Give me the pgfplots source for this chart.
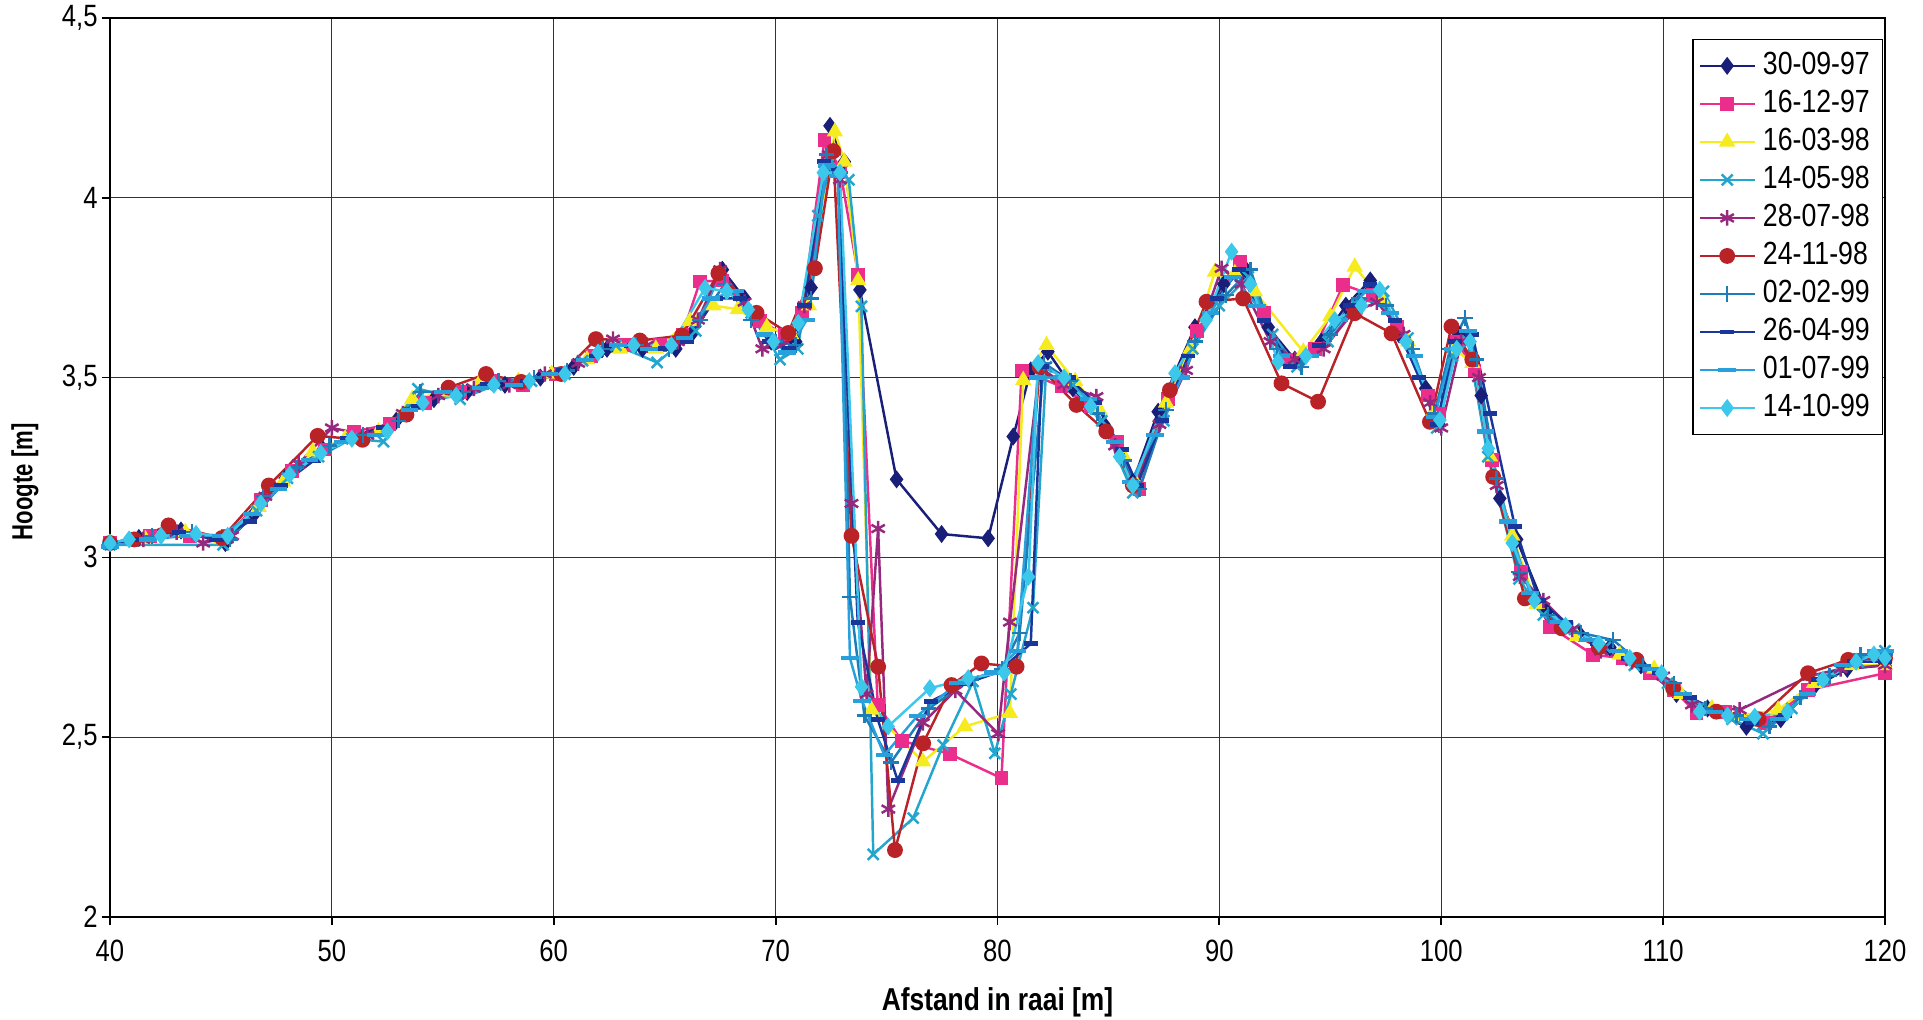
\documentclass[border=0pt]{standalone}
\usepackage{fontspec}
\setmainfont{Liberation Sans}
\usepackage{graphicx}
\usepackage{pgfplots}
\pgfplotsset{compat=1.18}

\definecolor{cA}{RGB}{25,30,120}
\definecolor{cB}{RGB}{235,45,140}
\definecolor{cC}{RGB}{245,235,30}
\definecolor{cD}{RGB}{35,165,205}
\definecolor{cE}{RGB}{150,40,125}
\definecolor{cF}{RGB}{185,35,40}
\definecolor{cG}{RGB}{30,125,185}
\definecolor{cH}{RGB}{25,55,155}
\definecolor{cI}{RGB}{40,160,220}
\definecolor{cJ}{RGB}{60,200,235}

% the scanned chart has its lettering stretched a little in height
\newcommand{\tall}[1]{\scalebox{1}[1.2]{#1}}

\begin{document}
\begin{tikzpicture}
\begin{axis}[
  scale only axis, width=17.75cm, height=8.99cm,
  xmin=40, xmax=120, ymin=2, ymax=4.5,
  xtick={40,50,...,120}, ytick={2,2.5,...,4.5},
  grid=major, grid style={black!80, line width=0.35pt},
  axis line style={black, line width=0.6pt},
  tick align=outside, tick pos=left, major tick length=0.08cm,
  tick style={black, line width=0.5pt},
  /pgf/number format/use comma,
  /pgf/number format/assume math mode=true,
  xticklabel={\tall{\pgfmathprintnumber{\tick}}},
  yticklabel={\tall{\pgfmathprintnumber{\tick}}},
  ticklabel style={font=\fontsize{7.3}{8}\selectfont},
  xticklabel style={yshift=-0.03cm},
  yticklabel style={xshift=0.08cm},
  xlabel={\tall{Afstand in raai [m]}},
  ylabel={\scalebox{0.84}[1.1]{Hoogte [m]}},
  label style={font=\bfseries\fontsize{7.5}{9}\selectfont},
  x label style={at={(axis description cs:0.5,-0.0945)},anchor=center},
  y label style={at={(axis description cs:-0.0479,0.484)},anchor=center},
  legend style={at={(0.999,0.977)}, anchor=north east, font=\fontsize{7.6}{9}\selectfont,
    draw=black, row sep=-1.05pt, inner sep=1.6pt, cells={anchor=west}},
  legend image code/.code={\draw[mark repeat=2,mark phase=2] plot coordinates {(0cm,0cm) (0.275cm,0cm) (0.55cm,0cm)};},
  every axis plot/.append style={line width=0.7pt},
]

% 30-09-97
\addplot[cA, mark=diamond*, mark size=2pt, mark options={solid}] coordinates {
(40,3.04) (41.3,3.054) (43.2,3.075) (45.2,3.04) (46.5,3.12) (47.9,3.22) (49.6,3.30) (51.2,3.34) (52.9,3.38) (54.6,3.44) (56.1,3.46) (57.8,3.48) (59.4,3.50) (60.9,3.53) (62.4,3.58) (64.0,3.58) (65.5,3.58) (66.2,3.62) (67.6,3.80) (68.6,3.72) (69.8,3.60) (70.9,3.60) (71.6,3.75) (72.45,4.20) (73.1,4.10) (73.8,3.744) (75.45,3.217) (77.48,3.065) (79.58,3.053) (80.71,3.336) (81.5,3.52) (82.27,3.572) (83.4,3.47) (84.8,3.37) (86.1,3.21) (87.24,3.405) (88.9,3.64) (90.2,3.76) (91.2,3.80) (92.2,3.64) (93.4,3.55) (94.6,3.60) (95.7,3.70) (96.8,3.77) (98.1,3.62) (99.3,3.47) (99.9,3.37) (100.8,3.62) (101.8,3.45) (102.64,3.164) (103.4,3.05) (104.74,2.849) (106.2,2.79) (107.6,2.75) (109.0,2.70) (110.6,2.62) (112.0,2.58) (113.75,2.529) (115.3,2.55) (116.8,2.64) (118.3,2.69) (120,2.70)
};
\addlegendentry{\tall{30-09-97}}

% 16-12-97
\addplot[cB, mark=square*, mark size=1.6pt, mark options={solid}] coordinates {
(40,3.04) (41.8,3.06) (43.6,3.06) (45.3,3.06) (46.8,3.16) (48.2,3.24) (49.7,3.30) (51.0,3.35) (52.6,3.37) (54.2,3.43) (55.8,3.46) (57.2,3.49) (58.6,3.48) (60.1,3.51) (61.7,3.56) (63.2,3.59) (64.8,3.59) (65.8,3.62) (66.59,3.767) (67.6,3.77) (69.3,3.657) (70.4,3.62) (71.2,3.68) (72.2,4.16) (72.9,4.08) (73.72,3.786) (74.6,2.59) (75.68,2.49) (77.86,2.453) (80.18,2.386) (81.09,3.52) (82.89,3.475) (84.2,3.42) (85.4,3.32) (86.4,3.19) (87.7,3.44) (89.0,3.63) (90.92,3.822) (92.0,3.68) (93.0,3.55) (94.3,3.58) (95.58,3.758) (96.9,3.73) (98.0,3.64) (99.4,3.45) (99.9,3.40) (100.7,3.60) (101.5,3.52) (102.3,3.27) (103.6,2.96) (104.9,2.807) (106.85,2.729) (108.2,2.72) (109.4,2.678) (110.5,2.63) (111.5,2.567) (112.8,2.57) (114.58,2.539) (116.53,2.631) (120,2.678)
};
\addlegendentry{\tall{16-12-97}}

% 16-03-98
\addplot[cC, mark=triangle*, mark size=2pt, mark options={solid}] coordinates {
(40,3.04) (41.6,3.05) (43.4,3.07) (45.0,3.05) (46.7,3.14) (47.8,3.21) (49.14,3.294) (50.6,3.33) (52.1,3.35) (53.62,3.44) (55.1,3.46) (56.6,3.48) (58.4,3.49) (59.9,3.51) (61.5,3.55) (63.0,3.58) (64.6,3.58) (66.14,3.657) (67.2,3.70) (68.3,3.69) (69.6,3.64) (70.7,3.62) (71.5,3.70) (72.67,4.184) (73.1,4.10) (73.72,3.77) (74.32,2.576) (76.64,2.432) (78.53,2.53) (80.56,2.567) (81.16,3.493) (82.21,3.59) (83.5,3.49) (84.6,3.41) (85.7,3.28) (86.3,3.20) (87.6,3.43) (88.7,3.58) (89.8,3.794) (90.7,3.79) (91.6,3.739) (93.78,3.572) (95.0,3.67) (96.1,3.808) (97.3,3.72) (98.5,3.60) (99.6,3.40) (100.6,3.58) (101.4,3.54) (102.2,3.28) (103.2,3.06) (104.3,2.87) (106.1,2.78) (108.05,2.729) (109.6,2.69) (110.8,2.62) (112.2,2.58) (113.5,2.56) (115.18,2.576) (116.8,2.65) (118.5,2.70) (120,2.70)
};
\addlegendentry{\tall{16-03-98}}

% 14-05-98
\addplot[cD, mark=x, mark size=2.2pt, mark options={solid}] coordinates {
(40,3.035) (45.1,3.035) (46.6,3.13) (48.0,3.22) (49.4,3.28) (50.9,3.33) (52.33,3.322) (53.88,3.469) (55.78,3.44) (57.4,3.48) (59.0,3.49) (60.5,3.51) (61.3,3.547) (62.8,3.59) (64.66,3.542) (66.4,3.63) (67.5,3.79) (68.9,3.68) (70.2,3.55) (71.0,3.58) (71.9,3.95) (72.5,4.10) (73.3,4.05) (73.87,3.698) (74.4,2.174) (76.2,2.275) (77.55,2.478) (78.9,2.655) (79.88,2.455) (80.6,2.62) (81.6,2.86) (82.2,3.53) (83.4,3.48) (84.7,3.38) (86.1,3.18) (87.5,3.38) (88.8,3.58) (90.0,3.70) (91.3,3.78) (92.4,3.62) (93.5,3.53) (94.9,3.60) (96.2,3.70) (97.4,3.74) (98.5,3.61) (99.8,3.36) (100.5,3.56) (101.2,3.60) (102.1,3.28) (103.5,2.94) (104.6,2.84) (106.0,2.80) (107.4,2.75) (108.7,2.70) (110.2,2.65) (111.6,2.58) (113.1,2.55) (114.5,2.51) (115.8,2.58) (117.2,2.66) (118.8,2.71) (120,2.74)
};
\addlegendentry{\tall{14-05-98}}

% 28-07-98
\addplot[cE, mark=asterisk, mark size=2.2pt, mark options={solid}] coordinates {
(40,3.04) (41.5,3.05) (43.0,3.07) (44.2,3.04) (45.5,3.06) (47.0,3.17) (48.5,3.26) (50.0,3.36) (51.6,3.34) (53.2,3.40) (54.8,3.45) (56.4,3.47) (58.0,3.48) (59.6,3.51) (61.1,3.54) (62.67,3.607) (64.2,3.59) (65.6,3.60) (66.5,3.66) (67.5,3.80) (68.6,3.71) (69.4,3.58) (70.3,3.59) (71.3,3.70) (72.4,4.12) (72.9,4.05) (73.42,3.15) (74.1,2.62) (74.62,3.08) (75.08,2.30) (76.64,2.54) (78.1,2.63) (80.03,2.51) (80.56,2.82) (81.9,3.53) (83.0,3.48) (84.46,3.447) (85.3,3.31) (86.2,3.20) (87.3,3.37) (88.5,3.52) (90.1,3.804) (91.0,3.76) (92.3,3.60) (93.4,3.55) (94.7,3.58) (96.0,3.68) (97.1,3.71) (98.3,3.62) (99.5,3.43) (100.0,3.36) (100.9,3.60) (101.7,3.50) (102.5,3.20) (103.54,2.947) (104.6,2.88) (105.9,2.80) (107.2,2.74) (108.6,2.71) (110.0,2.67) (111.3,2.59) (113.45,2.576) (116.6,2.67) (118.0,2.69) (120,2.70)
};
\addlegendentry{\tall{28-07-98}}

% 24-11-98
\addplot[cF, mark=*, mark size=1.9pt, mark options={solid}] coordinates {
(40,3.04) (41.1,3.05) (42.64,3.089) (45.05,3.054) (47.16,3.20) (49.36,3.338) (51.38,3.327) (53.36,3.397) (55.26,3.472) (56.95,3.51) (58.53,3.488) (60.34,3.51) (61.9,3.607) (63.88,3.603) (65.78,3.617) (67.42,3.79) (69.14,3.68) (70.57,3.624) (71.77,3.804) (72.6,4.13) (73.42,3.06) (74.62,2.696) (75.38,2.186) (76.65,2.483) (77.93,2.645) (79.28,2.705) (80.86,2.696) (81.9,3.53) (83.56,3.424) (84.9,3.35) (86.1,3.20) (87.77,3.465) (89.42,3.711) (91.07,3.72) (92.8,3.484) (94.45,3.433) (96.1,3.679) (97.76,3.623) (99.49,3.377) (100.46,3.642) (101.4,3.55) (102.34,3.224) (103.77,2.886) (105.42,2.803) (107.1,2.75) (108.8,2.715) (110.45,2.636) (112.4,2.571) (114.3,2.55) (116.53,2.678) (118.34,2.715) (120,2.72)
};
\addlegendentry{\tall{24-11-98}}

% 02-02-99
\addplot[cG, mark=+, mark size=2.2pt, mark options={solid}] coordinates {
(40,3.04) (41.9,3.06) (43.7,3.07) (45.4,3.05) (46.9,3.17) (48.4,3.25) (49.9,3.31) (51.4,3.34) (53.0,3.38) (54.0,3.46) (55.9,3.46) (57.5,3.49) (59.1,3.50) (60.6,3.52) (62.2,3.58) (63.7,3.59) (65.2,3.58) (66.6,3.66) (67.7,3.76) (68.9,3.66) (70.0,3.60) (70.9,3.59) (71.6,3.72) (72.3,4.12) (72.9,4.07) (73.35,2.89) (74.0,2.56) (75.2,2.43) (76.9,2.58) (78.8,2.66) (80.2,2.69) (81.0,2.79) (82.1,3.54) (83.3,3.49) (84.5,3.40) (85.7,3.27) (86.4,3.19) (87.6,3.41) (88.9,3.60) (90.3,3.73) (91.4,3.80) (92.6,3.58) (93.7,3.53) (95.0,3.62) (96.3,3.72) (97.5,3.70) (98.7,3.58) (99.7,3.40) (100.4,3.58) (101.07,3.666) (101.6,3.55) (102.5,3.22) (103.5,2.96) (104.8,2.84) (106.3,2.79) (107.75,2.77) (109.1,2.70) (110.5,2.65) (111.9,2.58) (113.3,2.56) (114.8,2.53) (116.2,2.61) (117.5,2.67) (118.9,2.73) (120,2.73)
};
\addlegendentry{\tall{02-02-99}}

% 26-04-99
\addplot[cH, mark=-, mark size=2pt, mark options={solid, line width=1.4pt}] coordinates {
(40,3.04) (41.4,3.05) (43.1,3.07) (44.8,3.05) (46.3,3.10) (47.7,3.20) (49.2,3.27) (50.7,3.33) (52.3,3.36) (53.9,3.42) (55.5,3.46) (57.0,3.48) (58.8,3.49) (60.4,3.52) (61.9,3.56) (63.5,3.59) (65.0,3.58) (66.0,3.60) (67.3,3.72) (68.4,3.72) (69.7,3.60) (70.6,3.58) (71.3,3.70) (72.2,4.10) (72.8,4.08) (73.7,2.82) (74.6,2.55) (75.5,2.38) (77.0,2.60) (78.6,2.65) (80.0,2.68) (81.5,2.76) (82.0,3.53) (83.2,3.50) (84.4,3.43) (85.6,3.30) (86.3,3.20) (87.4,3.38) (88.6,3.56) (89.9,3.72) (90.9,3.80) (92.0,3.66) (93.2,3.53) (94.5,3.59) (95.9,3.70) (96.8,3.76) (97.9,3.66) (99.0,3.50) (99.8,3.37) (100.6,3.60) (101.4,3.62) (102.2,3.40) (103.32,3.086) (104.4,2.88) (105.6,2.82) (107.0,2.76) (108.4,2.72) (109.8,2.68) (111.2,2.61) (112.6,2.57) (114.0,2.54) (115.5,2.56) (117.0,2.66) (118.6,2.71) (120,2.71)
};
\addlegendentry{\tall{26-04-99}}

% 01-07-99
\addplot[cI, mark=-, mark size=2.5pt, mark options={solid, line width=1.2pt}] coordinates {
(40,3.03) (41.7,3.05) (43.5,3.06) (45.0,3.06) (46.4,3.12) (47.6,3.19) (49.0,3.27) (50.5,3.32) (52.0,3.34) (53.5,3.41) (55.0,3.46) (56.7,3.47) (58.2,3.48) (59.8,3.51) (61.4,3.55) (62.9,3.59) (64.3,3.58) (65.9,3.61) (67.1,3.72) (68.2,3.74) (69.5,3.62) (70.5,3.57) (71.4,3.66) (72.3,4.09) (72.8,4.06) (73.35,2.72) (73.9,2.60) (74.9,2.45) (76.4,2.56) (78.2,2.65) (79.8,2.68) (80.9,2.74) (81.8,3.50) (82.9,3.50) (84.1,3.44) (85.3,3.32) (86.0,3.21) (87.1,3.34) (88.3,3.50) (89.6,3.68) (90.6,3.78) (91.7,3.70) (92.8,3.56) (94.1,3.56) (95.4,3.66) (96.6,3.74) (97.7,3.68) (98.8,3.56) (99.7,3.39) (100.5,3.58) (101.2,3.63) (102.0,3.35) (103.0,3.10) (104.0,2.90) (105.3,2.82) (106.6,2.77) (108.0,2.74) (109.5,2.69) (110.9,2.62) (112.3,2.57) (113.8,2.55) (115.2,2.55) (116.5,2.62) (118.1,2.70) (119.6,2.74) (120,2.74)
};
\addlegendentry{\tall{01-07-99}}

% 14-10-99
\addplot[cJ, mark=diamond*, mark size=2pt, mark options={solid}] coordinates {
(40,3.04) (40.86,3.05) (42.3,3.06) (43.88,3.065) (45.3,3.06) (46.8,3.15) (48.1,3.23) (49.5,3.29) (50.9,3.33) (52.5,3.35) (54.1,3.43) (55.6,3.45) (57.3,3.48) (58.9,3.49) (60.5,3.51) (62.0,3.57) (63.6,3.59) (65.3,3.59) (66.82,3.749) (67.8,3.74) (68.77,3.689) (69.9,3.60) (71.02,3.652) (72.15,4.07) (72.9,4.07) (73.87,2.64) (75.07,2.53) (76.95,2.636) (78.68,2.664) (80.3,2.68) (81.4,2.946) (81.83,3.54) (83.0,3.50) (84.2,3.42) (85.5,3.28) (86.1,3.20) (88.0,3.512) (89.4,3.66) (90.55,3.85) (91.4,3.76) (92.65,3.544) (93.9,3.56) (95.2,3.66) (96.4,3.70) (97.23,3.744) (98.4,3.60) (99.94,3.382) (100.7,3.58) (101.3,3.60) (102.12,3.303) (103.2,3.04) (104.2,2.88) (105.6,2.81) (107.1,2.76) (108.5,2.72) (109.93,2.678) (111.65,2.571) (112.9,2.56) (114.13,2.557) (115.6,2.57) (117.2,2.66) (118.7,2.71) (119.5,2.73) (120,2.72)
};
\addlegendentry{\tall{14-10-99}}

\end{axis}
\pgfresetboundingbox
\path ([xshift=-1.10cm,yshift=-1.03cm]current axis.south west) rectangle ([xshift=0.38cm,yshift=0.18cm]current axis.north east);
\end{tikzpicture}
\end{document}
